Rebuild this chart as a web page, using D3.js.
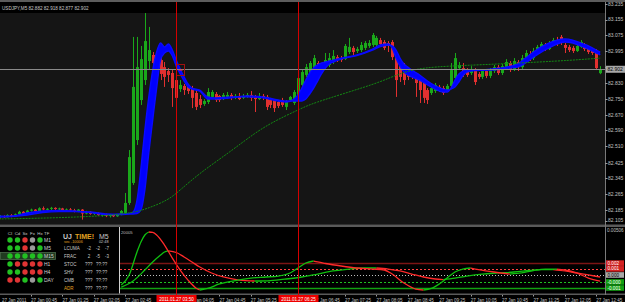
<!DOCTYPE html>
<html>
<head>
<meta charset="utf-8">
<script src="https://cdn.jsdelivr.net/npm/d3@7"></script>
<style>
html, body { margin: 0; padding: 0; background: #000; overflow: hidden; }
svg { display: block; font-family: "Liberation Sans", Arial, sans-serif; }
</style>
</head>
<body>
<svg id="chart" width="625" height="302"></svg>
<script>
// ---- datos del gráfico (USDJPY M5, 27 Jan 2011) ----
const symbolName = "USDJPY,M5";

const opens = [82.156,82.148,82.153,82.147,82.158,82.151,82.162,82.175,82.166,82.181,
82.186,82.178,82.193,82.187,82.190,82.195,82.189,82.192,82.184,82.187,
82.183,82.178,82.186,82.166,82.175,82.164,82.169,82.158,82.162,82.153,
82.159,82.152,82.160,82.169,82.220,82.322,82.541,82.745,82.847,82.944,
82.975,82.954,82.949,82.913,82.893,82.883,82.847,82.801,82.817,82.812,
82.806,82.781,82.750,82.725,82.735,82.761,82.776,82.766,82.756,82.761,
82.771,82.756,82.766,82.756,82.761,82.771,82.761,82.750,82.766,82.761,
82.745,82.745,82.735,82.745,82.710,82.745,82.730,82.756,82.822,82.873,
82.873,82.898,82.934,82.929,82.918,82.924,82.939,82.964,82.959,82.954,
82.990,83.011,82.995,83.000,83.011,83.021,83.026,83.026,83.051,83.041,
83.036,83.041,82.964,82.934,82.883,82.888,82.883,82.873,82.857,82.832,
82.796,82.781,82.791,82.812,82.806,82.796,82.817,82.857,82.908,82.908,
82.898,82.883,82.898,82.878,82.863,82.893,82.868,82.893,82.913,82.883,
82.913,82.934,82.903,82.939,82.913,82.954,82.980,82.959,82.990,83.011,
83.026,83.005,83.031,83.046,83.067,83.026,83.016,83.011,82.995,83.016,
83.026,83.011,83.000,82.995,82.882];

const highs = [82.160,82.158,82.157,82.162,82.163,82.166,82.180,82.178,82.185,82.191,
82.189,82.198,82.202,82.194,82.200,82.198,82.196,82.195,82.192,82.194,
82.190,82.189,82.189,82.180,82.178,82.172,82.172,82.168,82.166,82.162,
82.162,82.163,82.184,82.271,82.490,83.067,83.067,83.021,83.189,83.118,
82.990,83.000,82.959,82.939,82.908,82.898,82.863,82.847,82.827,82.827,
82.817,82.796,82.771,82.750,82.806,82.796,82.786,82.771,82.781,82.786,
82.781,82.776,82.781,82.776,82.781,82.791,82.771,82.781,82.776,82.771,
82.756,82.750,82.745,82.756,82.745,82.766,82.796,82.868,82.898,82.929,
82.944,82.975,82.944,82.939,82.985,82.985,83.000,82.975,82.970,83.031,
83.062,83.021,83.016,83.041,83.046,83.051,83.087,83.072,83.062,83.051,
83.046,83.051,82.975,82.944,82.934,82.898,82.893,82.883,82.868,82.842,
82.806,82.817,82.832,82.822,82.817,82.827,82.934,82.985,82.939,82.934,
82.908,82.918,82.908,82.888,82.903,82.903,82.908,82.924,82.924,82.929,
82.954,82.944,82.959,82.949,82.975,83.000,82.995,83.011,83.026,83.041,
83.036,83.046,83.062,83.067,83.077,83.036,83.026,83.021,83.031,83.051,
83.036,83.021,83.011,83.005,82.918];

const lows = [82.142,82.140,82.143,82.145,82.147,82.149,82.159,82.162,82.164,82.176,
82.172,82.175,82.182,82.180,82.184,82.184,82.182,82.180,82.178,82.181,
82.172,82.173,82.135,82.162,82.160,82.158,82.154,82.150,82.148,82.146,
82.148,82.149,82.157,82.164,82.210,82.312,82.516,82.720,82.822,82.898,
82.888,82.883,82.847,82.812,82.837,82.710,82.720,82.786,82.771,82.776,
82.704,82.694,82.704,82.715,82.725,82.750,82.735,82.735,82.745,82.750,
82.745,82.750,82.745,82.750,82.756,82.740,82.684,82.745,82.745,82.694,
82.704,82.684,82.704,82.710,82.694,82.735,82.720,82.745,82.806,82.863,
82.857,82.888,82.913,82.903,82.908,82.913,82.929,82.939,82.939,82.949,
82.980,82.975,82.985,82.990,83.000,83.011,83.016,83.016,83.021,83.000,
82.990,82.949,82.761,82.837,82.822,82.847,82.852,82.761,82.730,82.730,
82.725,82.771,82.781,82.786,82.771,82.786,82.806,82.847,82.898,82.863,
82.863,82.873,82.822,82.852,82.852,82.857,82.857,82.883,82.873,82.873,
82.903,82.888,82.893,82.893,82.903,82.944,82.944,82.949,82.980,83.000,
82.995,83.000,83.021,83.021,83.026,82.985,82.990,82.985,82.990,83.011,
82.995,82.980,82.975,82.898,82.877];

const closes = [82.148,82.153,82.147,82.158,82.151,82.162,82.175,82.166,82.181,82.186,
82.178,82.193,82.187,82.190,82.195,82.189,82.192,82.184,82.187,82.183,
82.178,82.186,82.166,82.175,82.164,82.169,82.158,82.162,82.153,82.159,
82.152,82.160,82.179,82.220,82.454,82.812,82.913,82.954,83.046,83.000,
82.934,82.939,82.878,82.863,82.873,82.806,82.756,82.822,82.796,82.791,
82.756,82.710,82.720,82.740,82.786,82.786,82.745,82.745,82.771,82.771,
82.756,82.766,82.750,82.766,82.771,82.756,82.750,82.766,82.756,82.710,
82.720,82.704,82.715,82.720,82.735,82.761,82.786,82.857,82.888,82.913,
82.934,82.959,82.924,82.913,82.949,82.959,82.970,82.949,82.949,83.021,
83.016,82.990,83.005,83.026,83.036,83.036,83.077,83.062,83.031,83.011,
83.021,82.964,82.847,82.863,82.847,82.863,82.868,82.832,82.796,82.756,
82.745,82.806,82.822,82.796,82.781,82.817,82.898,82.959,82.924,82.873,
82.873,82.903,82.837,82.863,82.893,82.868,82.898,82.913,82.883,82.918,
82.939,82.903,82.944,82.913,82.959,82.985,82.959,82.995,83.016,83.031,
83.005,83.036,83.051,83.031,83.036,83.011,83.000,82.995,83.021,83.041,
83.005,82.990,82.985,82.908,82.902];

// banda azul (dos medias rellenas)
const bandBars = [0,4,8,12,16,20,24,28,32,34,35,36,37,38,39,40,41,42,43,44,45,46,47,48,49,50,52,54,56,60,64,68,72,74,76,77,78,79,80,81,82,83,84,85,86,88,92,96,98,100,101,102,103,104,105,106,108,110,112,114,115,116,117,118,119,120,122,126,130,133,135,137,139,141,143,145,147,149,151,153,154];
const bandFast = [82.153,82.153,82.169,82.179,82.182,82.179,82.171,82.161,82.164,82.166,82.174,82.235,82.398,82.592,82.761,82.898,82.990,83.036,83.016,83.031,83.000,82.949,82.903,82.863,82.827,82.806,82.796,82.761,82.756,82.761,82.761,82.756,82.740,82.735,82.750,82.771,82.806,82.847,82.883,82.908,82.924,82.934,82.939,82.944,82.949,82.959,82.975,83.005,83.026,83.031,83.011,82.959,82.918,82.888,82.873,82.863,82.847,82.822,82.801,82.786,82.786,82.806,82.847,82.878,82.893,82.898,82.898,82.903,82.913,82.929,82.959,82.990,83.016,83.036,83.051,83.057,83.051,83.036,83.021,83.000,82.990];
const bandSlow = [82.148,82.151,82.158,82.171,82.176,82.176,82.174,82.164,82.161,82.164,82.164,82.166,82.184,82.286,82.475,82.643,82.806,82.949,82.985,82.995,82.970,82.918,82.878,82.842,82.812,82.801,82.791,82.750,82.750,82.756,82.766,82.761,82.745,82.740,82.740,82.740,82.740,82.750,82.776,82.806,82.842,82.878,82.908,82.929,82.939,82.954,82.972,83.000,83.018,83.026,83.021,83.000,82.959,82.929,82.913,82.898,82.873,82.842,82.817,82.801,82.796,82.801,82.812,82.837,82.868,82.888,82.896,82.898,82.906,82.913,82.934,82.964,82.990,83.011,83.031,83.041,83.036,83.021,83.005,82.985,82.975];

// media lenta verde
const maBars = [0,14,27,35,39,44,47,52,60,66,71,78,81,90,98,102,108,123,144,154];
const maVals = [82.138,82.143,82.153,82.169,82.194,82.235,82.286,82.373,82.485,82.577,82.638,82.704,82.730,82.786,82.837,82.873,82.913,82.924,82.944,82.959];

const markerBars = [47];
const markerPrices = [82.898];

const priceTicks = [83.235,83.155,83.075,82.995,82.915,82.830,82.750,82.670,82.590,82.510,82.425,82.345,82.265,82.185,82.105];

const timeBars = [0,9,17,25,33,49,57,65,81,89,97,105,113,121,129,137,145,153];
const timeLabels = ["27 Jan 2011","27 Jan 00:45","27 Jan 01:25","27 Jan 02:05","27 Jan 02:45",
  "27 Jan 04:05","27 Jan 04:45","27 Jan 05:25","27 Jan 06:45","27 Jan 07:25","27 Jan 08:05",
  "27 Jan 08:45","27 Jan 09:25","27 Jan 10:05","27 Jan 10:45","27 Jan 11:25","27 Jan 12:05","27 Jan 12:45"];

const vlineBars = [46, 77];
const vlineLabels = ["2011.01.27 03:50", "2011.01.27 06:25"];

// oscilador (ventana inferior)
const oscFastBars = [32,34,36,37,38,39,40,41,43,45,47,49,51,52,54,57,61,65,69,72,75,77,79,81,82,84,88,92,96,99,101,104,107,109,111,113,115,117,119,121,123,127,131,134,137,140,143,145,148,151,154];
const oscFast = [-0.00069,0.00036,0.00276,0.00381,0.00454,0.00485,0.0048,0.00454,0.00349,0.00213,0.00088,-0.00017,-0.001,-0.00121,-0.00105,-0.00058,-0.00022,0.00004,0.00015,0.00025,0.00057,0.00109,0.00161,0.00182,0.00172,0.00156,0.0013,0.00109,0.00098,0.00088,0.00046,-0.00048,-0.00111,-0.00121,-0.00105,-0.00058,0.00004,0.00067,0.00098,0.00109,0.00093,0.00067,0.00046,0.00057,0.00083,0.00098,0.00098,0.00088,0.00057,0.00004,-0.00027];
const oscSlowBars = [32,35,38,40,42,43,44,46,48,50,52,55,58,62,66,70,74,78,82,86,90,94,97,100,103,106,109,112,114,117,120,124,128,132,136,139,142,145,148,151,154];
const oscSlow = [-0.0009,-0.00027,0.00088,0.00172,0.00245,0.00276,0.00287,0.00271,0.00224,0.00172,0.00119,0.00057,0.00015,-0.00017,-0.00027,-0.00022,-0.00006,0.00015,0.00046,0.00078,0.00098,0.00109,0.00109,0.00098,0.00078,0.00046,0.00015,-0.00006,-0.00012,0.00004,0.00025,0.00046,0.00057,0.00067,0.00083,0.00093,0.00093,0.00078,0.00057,0.00036,0.00015];
const oscTop = 0.00506;
const oscLevels = [0.0016, 0.001, 0.00036, -0.00037, -0.001];
const oscLevelLabels = ["0.002", "0.001", "0.000", "-0.000", "-0.001"];

// panel de señales
const panelCols = ["CI","Cd","Sx","Fx","Hx"];
const panelTF = ["M1","M5","M15","H1","H4","DAY"];
const panelDots = [
  ["g","g","r","n","g"],
  ["g","g","r","n","g"],
  ["g","g","g","g","g"],
  ["g","r","r","r","r"],
  ["g","g","r","r","r"],
  ["r","r","g","n","g"]
];
const infoNames = ["LCUMA","FRAC","STOC","SHV","CMB","ADR"];
const infoA = ["-2","2","???","???","???","???"];
const infoB = ["-2","-5","??:??","??:??","??:??","??:??"];
const infoC = ["-7","-3","","","",""];

// ---- dibujo ----
const svg = d3.select("#chart");
const W = 625, H = 302, plotR = 605;
const green = "#1aa81a", red = "#e23030";

const x = d3.scaleLinear().domain([0, 154]).range([-4.3, 600.2]);
const y = d3.scaleLinear().domain([82.105, 83.235]).range([225.5, 4]);
const yo = d3.scaleLinear().domain([-0.001, oscTop]).range([288, 230]);
const px = v => Math.round(v) + 0.5;

const defs = svg.append("defs");
defs.append("clipPath").attr("id", "clipMain").append("rect")
  .attr("x", 0).attr("y", 2).attr("width", plotR).attr("height", 222.5);
defs.append("clipPath").attr("id", "clipSub").append("rect")
  .attr("x", 120).attr("y", 227).attr("width", plotR - 120).attr("height", 66);

// recorte del eje de tiempo: fuera de las cajas rojas
const boxHalf = 20;
const edges = [0].concat(...vlineBars.map(b => [px(x(b)) - boxHalf, px(x(b)) + boxHalf]), [W]);
const clipTime = defs.append("clipPath").attr("id", "clipTime");
for (let k = 0; k < edges.length; k += 2) {
  clipTime.append("rect").attr("x", edges[k]).attr("y", 294).attr("width", edges[k + 1] - edges[k]).attr("height", 8);
}

// fondos
svg.append("rect").attr("width", W).attr("height", H).attr("fill", "#000");
svg.append("rect").attr("x", 0).attr("y", 13).attr("width", plotR).attr("height", 211.5).attr("fill", "#151515");
svg.append("rect").attr("x", 0).attr("y", 0).attr("width", W).attr("height", 2).attr("fill", "#5c5c5c");

const gMain = svg.append("g").attr("clip-path", "url(#clipMain)");
const idx = d3.range(opens.length);
const isUp = i => closes[i] >= opens[i];

// velas
gMain.selectAll("line.wick").data(idx).join("line")
  .attr("class", "wick")
  .attr("x1", i => px(x(i))).attr("x2", i => px(x(i)))
  .attr("y1", i => y(highs[i])).attr("y2", i => y(lows[i]))
  .attr("stroke", i => isUp(i) ? green : red).attr("stroke-width", 1);

gMain.selectAll("rect.body").data(idx).join("rect")
  .attr("class", "body")
  .attr("x", i => Math.round(x(i)) - 1).attr("width", 3)
  .attr("y", i => y(Math.max(opens[i], closes[i])))
  .attr("height", i => Math.max(1, Math.abs(y(opens[i]) - y(closes[i]))))
  .attr("fill", i => isUp(i) ? green : red);

// banda azul
const band = bandBars.map((b, k) => ({ b: b, f: bandFast[k], s: bandSlow[k] }));
gMain.append("path").datum(band)
  .attr("d", d3.area().x(d => x(d.b)).y0(d => y(d.s)).y1(d => y(d.f)).curve(d3.curveMonotoneX))
  .attr("fill", "#0000ff");
[d => d.f, d => d.s].forEach(acc => {
  gMain.append("path").datum(band)
    .attr("d", d3.line().x(d => x(d.b)).y(d => y(acc(d))).curve(d3.curveMonotoneX))
    .attr("fill", "none").attr("stroke", "#0a0aff").attr("stroke-width", 1.4);
});

// media verde
gMain.append("path").datum(maBars.map((b, k) => [b, maVals[k]]))
  .attr("d", d3.line().x(d => x(d[0])).y(d => y(d[1])).curve(d3.curveBasis))
  .attr("fill", "none").attr("stroke", "#138a13").attr("stroke-width", 1)
  .attr("stroke-dasharray", "2,1");

// línea bid
const last = closes.length - 1;
const bid = closes[last];
gMain.append("line").attr("x1", 0).attr("x2", plotR)
  .attr("y1", px(y(bid))).attr("y2", px(y(bid)))
  .attr("stroke", "#8a8a8a").attr("stroke-width", 1);

// marcador
markerBars.forEach((b, k) => {
  const cx = x(b), cy = y(markerPrices[k]);
  gMain.append("rect").attr("x", Math.round(cx) - 3.5).attr("y", Math.round(cy) - 5.5)
    .attr("width", 8).attr("height", 11).attr("fill", "none")
    .attr("stroke", "#a01010").attr("stroke-width", 1);
  gMain.append("line").attr("x1", cx - 1.5).attr("x2", cx + 2.5).attr("y1", cy).attr("y2", cy)
    .attr("stroke", "#ff3030").attr("stroke-width", 1);
});

// cabecera
svg.append("rect").attr("x", 0).attr("y", 2).attr("width", plotR).attr("height", 11).attr("fill", "#000");
svg.append("text").attr("x", 2).attr("y", 9.6)
  .attr("font-size", 4.6).attr("fill", "#c8c8c8")
  .text(`${symbolName}  ${opens[last].toFixed(3)} ${highs[last].toFixed(3)} ${lows[last].toFixed(3)} ${closes[last].toFixed(3)}`);

// separadores
svg.append("rect").attr("x", 0).attr("y", 224.5).attr("width", W).attr("height", 2.5).attr("fill", "#5a5a5a");
svg.append("rect").attr("x", 0).attr("y", 293.5).attr("width", W).attr("height", 1.5).attr("fill", "#5a5a5a");
svg.append("line").attr("x1", plotR + 0.5).attr("x2", plotR + 0.5).attr("y1", 2).attr("y2", 295)
  .attr("stroke", "#7a7a7a").attr("stroke-width", 1);

// eje de precios (la caja del bid tapa la etiqueta cercana)
const gAx = svg.append("g");
priceTicks.forEach(p => {
  const yy = Math.min(y(p), 220.5);
  gAx.append("line").attr("x1", plotR).attr("x2", plotR + 2.5).attr("y1", px(yy)).attr("y2", px(yy))
    .attr("stroke", "#9a9a9a");
  if (Math.abs(yy - y(bid)) < 5) return;
  gAx.append("text").attr("x", plotR + 3).attr("y", yy + 1.8)
    .attr("font-size", 5).attr("fill", "#c0c0c0").text(p.toFixed(3));
});
gAx.append("rect").attr("x", plotR + 1).attr("y", y(bid) - 3.5).attr("width", 19).attr("height", 7)
  .attr("fill", "#a8a8a8");
gAx.append("text").attr("x", plotR + 2.5).attr("y", y(bid) + 1.8)
  .attr("font-size", 5).attr("fill", "#000").text(bid.toFixed(3));

// ventana del oscilador
const gSub = svg.append("g").attr("clip-path", "url(#clipSub)");
const levelStroke = ["#7a1414", "#ff4040", "#bdbdbd", "#20c020", "#12a012"];
const levelDash = [null, "2,2", "1,2", "2,2", null];
const levelWidth = [1.6, 1, 1, 1, 1.4];
oscLevels.forEach((v, k) => {
  gSub.append("line").attr("x1", 120).attr("x2", plotR).attr("y1", px(yo(v))).attr("y2", px(yo(v)))
    .attr("stroke", levelStroke[k]).attr("stroke-width", levelWidth[k])
    .attr("stroke-dasharray", levelDash[k]);
});

const oscLine = d3.line().x(d => x(d[0])).y(d => yo(d[1])).curve(d3.curveMonotoneX);
function drawOsc(bars, vals) {
  const runs = [];
  let cur = null;
  for (let k = 1; k < bars.length; k++) {
    const up = vals[k] >= vals[k - 1];
    if (!cur || cur.up !== up) {
      cur = { up: up, pts: [[bars[k - 1], vals[k - 1]]] };
      runs.push(cur);
    }
    cur.pts.push([bars[k], vals[k]]);
  }
  runs.forEach(r => {
    gSub.append("path").attr("d", oscLine(r.pts)).attr("fill", "none")
      .attr("stroke", r.up ? "#10c010" : "#ff2a2a").attr("stroke-width", 1.3);
  });
}
drawOsc(oscSlowBars, oscSlow);
drawOsc(oscFastBars, oscFast);

svg.append("text").attr("x", 121).attr("y", 233.5).attr("font-size", 4.2).attr("fill", "#bdbdbd").text("20005");
svg.append("line").attr("x1", 119.5).attr("x2", 119.5).attr("y1", 227).attr("y2", 293.5)
  .attr("stroke", "#d0d0d0").attr("stroke-width", 1);

// etiquetas del eje del oscilador
svg.append("text").attr("x", plotR + 2).attr("y", 231.5).attr("font-size", 4.6).attr("fill", "#c0c0c0")
  .text(oscTop.toFixed(5));
const boxFill = ["#d42222", "#d42222", "#a8a8a8", "#12a012", "#12a012"];
const boxText = ["#fff", "#fff", "#000", "#fff", "#fff"];
oscLevels.forEach((v, k) => {
  const yy = yo(v);
  svg.append("rect").attr("x", plotR + 1).attr("y", yy - 2.8).attr("width", 18).attr("height", 5.6)
    .attr("fill", boxFill[k]);
  svg.append("text").attr("x", plotR + 2.5).attr("y", yy + 1.6).attr("font-size", 4.6)
    .attr("fill", boxText[k]).text(oscLevelLabels[k]);
});

// panel izquierdo
const colX = k => 10 + 7.5 * k;
const rowY = r => 240 + 8 * r;
const dotColor = { g: "#22c022", r: "#e03434", n: "#9a9a9a" };
svg.append("rect").attr("x", 0.5).attr("y", rowY(2) - 3.5).attr("width", 55).attr("height", 7)
  .attr("fill", "#213b21").attr("stroke", "#4a6a4a").attr("stroke-width", 0.8);
panelCols.forEach((c, k) => {
  svg.append("text").attr("x", colX(k)).attr("y", 234.5).attr("text-anchor", "middle")
    .attr("font-size", 4.4).attr("fill", "#c8c8c8").text(c);
});
svg.append("text").attr("x", 44).attr("y", 234.5).attr("font-size", 4.4).attr("fill", "#c8c8c8").text("TF");
panelDots.forEach((row, r) => {
  row.forEach((d, k) => {
    svg.append("circle").attr("cx", colX(k)).attr("cy", rowY(r)).attr("r", 2.7).attr("fill", dotColor[d]);
  });
  svg.append("text").attr("x", 44).attr("y", rowY(r) + 1.8).attr("font-size", 5)
    .attr("fill", "#d0d0d0").text(panelTF[r]);
});

svg.append("text").attr("x", 63).attr("y", 238.5).attr("font-size", 7).attr("font-weight", "bold")
  .attr("fill", "#c8c8c8").text("UJ");
svg.append("text").attr("x", 75).attr("y", 238.5).attr("font-size", 7).attr("font-weight", "bold")
  .attr("fill", "#e0a020").text("TIME!");
svg.append("text").attr("x", 99).attr("y", 238.5).attr("font-size", 7)
  .attr("fill", "#c8c8c8").text("M5");
svg.append("text").attr("x", 64).attr("y", 242.8).attr("font-size", 3.8).attr("fill", "#e0a020").text("sec -10006");
svg.append("text").attr("x", 99).attr("y", 242.8).attr("font-size", 3.8).attr("fill", "#c8c8c8").text("02:48");
const infoY = [250, 257.5, 265.5, 273.5, 282, 289.5];
infoNames.forEach((n, r) => {
  const yy = infoY[r];
  svg.append("text").attr("x", 64).attr("y", yy).attr("font-size", 4.5)
    .attr("fill", n === "ADR" ? "#e0a020" : "#c8c8c8").text(n);
  svg.append("text").attr("x", infoA[r].length > 2 ? 85 : 89).attr("y", yy).attr("font-size", 4.5)
    .attr("text-anchor", infoA[r].length > 2 ? "start" : "middle").attr("fill", "#c8c8c8").text(infoA[r]);
  svg.append("text").attr("x", infoB[r].length > 2 ? 96 : 98).attr("y", yy).attr("font-size", 4.5)
    .attr("text-anchor", infoB[r].length > 2 ? "start" : "middle").attr("fill", "#c8c8c8").text(infoB[r]);
  svg.append("text").attr("x", 107).attr("y", yy).attr("font-size", 4.5)
    .attr("text-anchor", "middle").attr("fill", "#c8c8c8").text(infoC[r]);
});

// eje de tiempo
const gTime = svg.append("g").attr("clip-path", "url(#clipTime)");
timeBars.forEach((b, k) => {
  const xx = Math.max(2, x(b));
  gTime.append("line").attr("x1", px(x(b))).attr("x2", px(x(b))).attr("y1", 295).attr("y2", 296.5)
    .attr("stroke", "#9a9a9a");
  gTime.append("text").attr("x", xx).attr("y", 301.5).attr("font-size", 4.5).attr("fill", "#c0c0c0")
    .text(timeLabels[k]);
});

// líneas verticales rojas
vlineBars.forEach((b, k) => {
  const xx = px(x(b));
  svg.append("line").attr("x1", xx).attr("x2", xx).attr("y1", 2).attr("y2", 295)
    .attr("stroke", "#d40000").attr("stroke-width", 1);
  svg.append("rect").attr("x", xx - boxHalf).attr("y", 295).attr("width", boxHalf * 2).attr("height", 7)
    .attr("fill", "#ee0000");
  svg.append("text").attr("x", xx).attr("y", 301.3).attr("text-anchor", "middle")
    .attr("font-size", 4.5).attr("fill", "#fff").text(vlineLabels[k]);
});
</script>
</body>
</html>
